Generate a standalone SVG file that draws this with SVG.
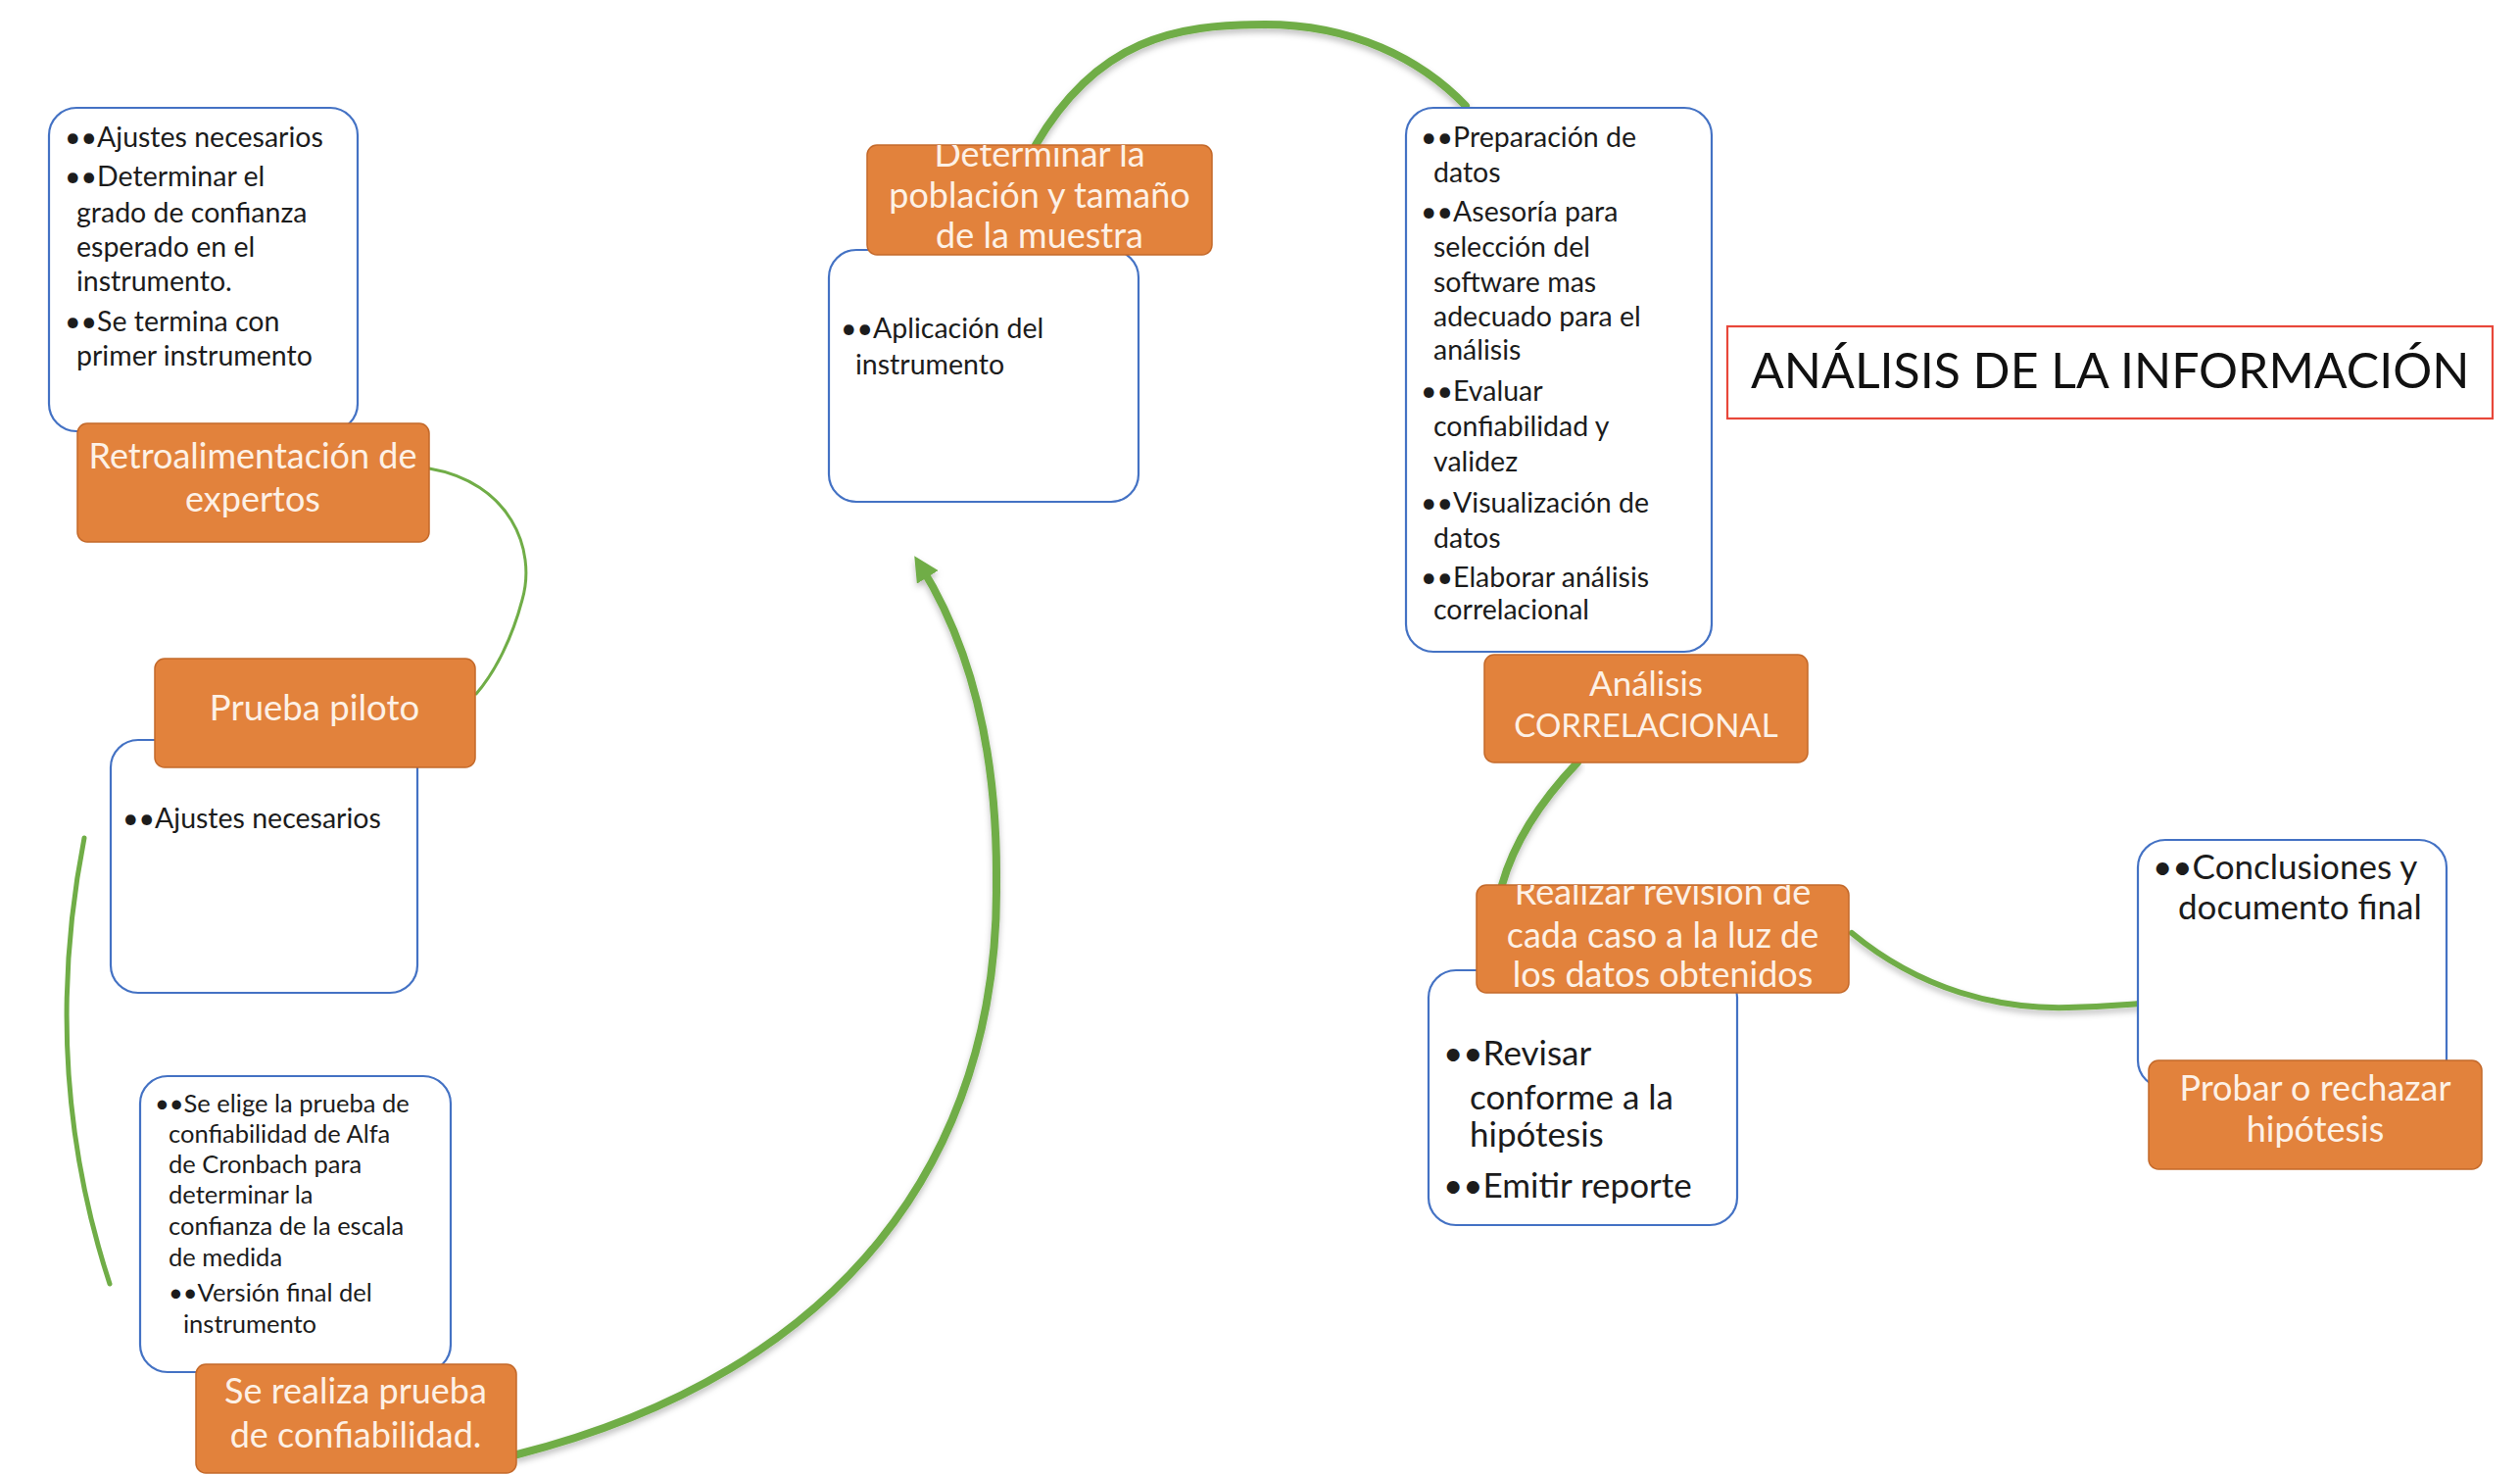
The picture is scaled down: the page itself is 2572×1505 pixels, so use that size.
<svg xmlns="http://www.w3.org/2000/svg" width="2572" height="1505" viewBox="0 0 2572 1505">
<defs>
<style>
.box{fill:#ffffff;stroke:#4472C4;stroke-width:2.2}
.org{fill:#E2823C;stroke:#C4692A;stroke-width:1.5}
.lbl{font-family:Lato,"Liberation Sans",sans-serif;fill:#FDF1E6;text-anchor:middle}
.txt{font-family:Lato,"Liberation Sans",sans-serif;fill:#1c1c1c}
.con{fill:none;stroke:#70AD47;stroke-linecap:round}
.faint{fill:none;stroke:#70AD47;stroke-opacity:0.12;stroke-width:6}
.title{font-family:Lato,"Liberation Sans",sans-serif;fill:#111111}
</style>
<marker id="arr" viewBox="0 0 10 10" refX="5" refY="5" markerWidth="3.2" markerHeight="3.2" orient="auto" markerUnits="strokeWidth">
<path d="M0,0 L10,5 L0,10 z" fill="#70AD47"/>
</marker>
<filter id="sh" x="-10%" y="-10%" width="120%" height="130%">
<feDropShadow dx="0" dy="4" stdDeviation="3" flood-color="#000000" flood-opacity="0.25"/>
</filter>
<clipPath id="c4"><rect x="885" y="148" width="352" height="112" rx="10"/></clipPath>
<clipPath id="c6"><rect x="1507" y="903" width="380" height="110" rx="10"/></clipPath>
</defs>
<rect width="2572" height="1505" fill="#ffffff"/>

<g id="connectors">
<path class="faint" d="M1533 903 C1516 980 1512 1100 1525 1220"/>
<path class="faint" d="M2185 1024 C2260 1020 2320 990 2350 945"/>
<path class="con" stroke-width="3" d="M438 478 C520 492 548 560 533 612 C523 650 506 685 486 708"/>
<path class="con" stroke-width="5" d="M86 855 Q40 1090 112 1310"/>
<path class="con" stroke-width="8" filter="url(#sh)" marker-end="url(#arr)" d="M528 1484 C860 1400 1020 1180 1017 900 C1018 760 988 655 940 578"/>
<path class="con" stroke-width="8" filter="url(#sh)" d="M1057 148 C1120 40 1200 25 1291 25 C1380 25 1450 60 1496 108"/>
<path class="con" stroke-width="8" filter="url(#sh)" d="M1610 778 C1570 820 1545 860 1533 903"/>
<path class="con" stroke-width="6" filter="url(#sh)" d="M1890 952 C1960 1010 2040 1030 2111 1028 C2150 1027 2170 1025 2185 1024"/>
</g>

<g id="node-retroalimentacion">
<rect class="box" x="50" y="110" width="315" height="330" rx="28"/>
<g class="txt" font-size="28.5">
<text x="66" y="150">••Ajustes necesarios</text>
<text x="66" y="190">••Determinar el</text>
<text x="78" y="227">grado de confianza</text>
<text x="78" y="262">esperado en el</text>
<text x="78" y="297">instrumento.</text>
<text x="66" y="338">••Se termina con</text>
<text x="78" y="373">primer instrumento</text>
</g>
<rect class="org" x="79" y="432" width="359" height="121" rx="10"/>
<g class="lbl" font-size="36">
<text x="258" y="478">Retroalimentación de</text>
<text x="258" y="522">expertos</text>
</g>
</g>

<g id="node-prueba-piloto">
<rect class="box" x="113" y="755" width="313" height="258" rx="28"/>
<text class="txt" font-size="28.5" x="125" y="845">••Ajustes necesarios</text>
<rect class="org" x="158" y="672" width="327" height="111" rx="10"/>
<text class="lbl" font-size="36.5" x="321" y="735">Prueba piloto</text>
</g>

<g id="node-confiabilidad">
<rect class="box" x="143" y="1098" width="317" height="302" rx="28"/>
<g class="txt" font-size="25.5">
<text x="158" y="1135">••Se elige la prueba de</text>
<text x="172" y="1166">confiabilidad de Alfa</text>
<text x="172" y="1197">de Cronbach para</text>
<text x="172" y="1228">determinar la</text>
<text x="172" y="1260">confianza de la escala</text>
<text x="172" y="1292">de medida</text>
<text x="172" y="1328">••Versión final del</text>
<text x="187" y="1360">instrumento</text>
</g>
<rect class="org" x="200" y="1392" width="327" height="111" rx="10"/>
<g class="lbl" font-size="36">
<text x="363" y="1432">Se realiza prueba</text>
<text x="363" y="1477">de confiabilidad.</text>
</g>
</g>

<g id="node-poblacion">
<rect class="box" x="846" y="255" width="316" height="257" rx="28"/>
<g class="txt" font-size="28.5">
<text x="858" y="345">••Aplicación del</text>
<text x="873" y="382">instrumento</text>
</g>
<rect class="org" x="885" y="148" width="352" height="112" rx="10"/>
<g class="lbl" font-size="36" clip-path="url(#c4)">
<text x="1061" y="170">Determinar la</text>
<text x="1061" y="212">población y tamaño</text>
<text x="1061" y="253">de la muestra</text>
</g>
</g>

<g id="node-correlacional">
<rect class="box" x="1435" y="110" width="312" height="555" rx="28"/>
<g class="txt" font-size="28.5">
<text x="1450" y="150">••Preparación de</text>
<text x="1463" y="186">datos</text>
<text x="1450" y="226">••Asesoría para</text>
<text x="1463" y="262">selección del</text>
<text x="1463" y="298">software mas</text>
<text x="1463" y="333">adecuado para el</text>
<text x="1463" y="367">análisis</text>
<text x="1450" y="409">••Evaluar</text>
<text x="1463" y="445">confiabilidad y</text>
<text x="1463" y="481">validez</text>
<text x="1450" y="523">••Visualización de</text>
<text x="1463" y="559">datos</text>
<text x="1450" y="599">••Elaborar análisis</text>
<text x="1463" y="632">correlacional</text>
</g>
<rect class="org" x="1515" y="668" width="330" height="110" rx="10"/>
<g class="lbl">
<text x="1680" y="710" font-size="35">Análisis</text>
<text x="1680" y="752" font-size="33">CORRELACIONAL</text>
</g>
</g>

<g id="node-revision">
<rect class="box" x="1458" y="990" width="315" height="260" rx="28"/>
<g class="txt" font-size="35">
<text x="1473" y="1087">••Revisar</text>
<text x="1500" y="1132">conforme a la</text>
<text x="1500" y="1170">hipótesis</text>
<text x="1473" y="1222">••Emitir reporte</text>
</g>
<rect class="org" x="1507" y="903" width="380" height="110" rx="10"/>
<g class="lbl" font-size="36" clip-path="url(#c6)">
<text x="1697" y="923">Realizar revisión de</text>
<text x="1697" y="967">cada caso a la luz de</text>
<text x="1697" y="1007">los datos obtenidos</text>
</g>
</g>

<g id="node-hipotesis">
<rect class="box" x="2182" y="857" width="315" height="253" rx="28"/>
<g class="txt" font-size="35">
<text x="2197" y="897">••Conclusiones y</text>
<text x="2223" y="938">documento final</text>
</g>
<rect class="org" x="2193" y="1082" width="340" height="111" rx="10"/>
<g class="lbl" font-size="36">
<text x="2363" y="1123">Probar o rechazar</text>
<text x="2363" y="1165">hipótesis</text>
</g>
</g>

<g id="title">
<rect x="1763" y="333" width="781" height="94" fill="#ffffff" stroke="#E8473A" stroke-width="2.2"/>
<text class="title" x="1787" y="396" font-size="50">ANÁLISIS DE LA INFORMACIÓN</text>
</g>
</svg>
